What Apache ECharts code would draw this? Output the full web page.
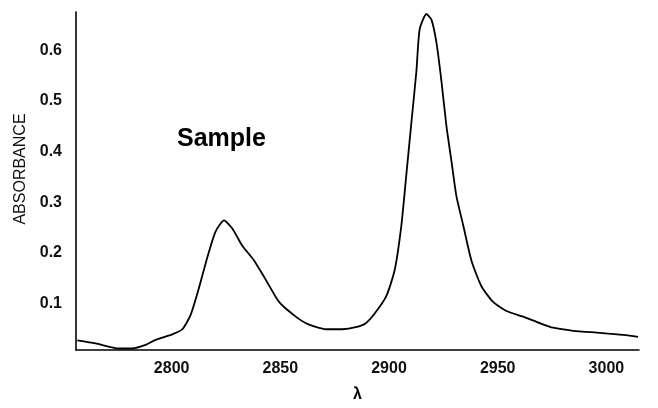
<!DOCTYPE html>
<html>
<head>
<meta charset="utf-8">
<script src="https://cdn.jsdelivr.net/npm/echarts@6/dist/echarts.min.js"></script>
<style>
  html, body { margin: 0; padding: 0; background: #fff; }
  #chart { width: 658px; height: 408px; }
</style>
</head>
<body>
<div id="chart"></div>
<script>
// wavenumber (x) and absorbance (y)
const wavenumbers = [
  2756.6, 2765, 2775.6, 2781.9, 2788, 2792.6, 2800.3, 2804.9, 2808.7, 2812.4,
  2816.4, 2820.2, 2824.1, 2827.9, 2832.5, 2837.9, 2843.3, 2849.4, 2857.1, 2863.2,
  2870.9, 2878.6, 2884.7, 2889.3, 2893.4, 2898.8, 2902.6, 2905.7, 2908, 2910.3,
  2912.6, 2914.1, 2917.2, 2919.5, 2921.8, 2924.1, 2926.4, 2928.7, 2931, 2934.1,
  2937.9, 2942.5, 2947.9, 2954, 2961.7, 2969.4, 2975.5, 2984.7, 2997, 3007.7, 3014.6
];
const absorbance = [
  0.027, 0.021, 0.011, 0.011, 0.018, 0.028, 0.039, 0.049, 0.077, 0.128,
  0.191, 0.242, 0.264, 0.248, 0.214, 0.185, 0.147, 0.103, 0.074, 0.058,
  0.049, 0.049, 0.053, 0.061, 0.080, 0.115, 0.166, 0.255, 0.356, 0.458,
  0.559, 0.642, 0.672, 0.661, 0.616, 0.540, 0.451, 0.382, 0.312, 0.255,
  0.185, 0.134, 0.103, 0.085, 0.074, 0.061, 0.052, 0.046, 0.042, 0.038, 0.034
];
const xTicks = [2800, 2850, 2900, 2950, 3000];
const yTicks = [0.1, 0.2, 0.3, 0.4, 0.5, 0.6];

const chart = echarts.init(document.getElementById("chart"));
const font = "Liberation Sans, Arial, sans-serif";

const option = {
  backgroundColor: "#fff",
  animation: false,
  title: {
    text: "Sample",
    left: 172,
    top: 122,
    textStyle: { fontFamily: font, fontSize: 25, fontWeight: 900, color: "#000" },
  },
  grid: { left: 76, right: 19, top: 12, bottom: 45 },
  xAxis: {
    type: "value",
    min: 2756,
    max: 3015,
    name: "λ",
    nameLocation: "middle",
    nameGap: 37,
    nameTextStyle: { fontFamily: font, fontSize: 16, fontWeight: "bold", color: "#000" },
    axisLine: { lineStyle: { color: "#000", width: 1.6 } },
    axisTick: { show: false },
    splitLine: { show: false },
    axisLabel: {
      customValues: xTicks,
      margin: 11,
      fontFamily: font,
      fontSize: 16,
      fontWeight: "bold",
      color: "#111",
      formatter: (v) => String(v),
    },
  },
  yAxis: {
    type: "value",
    min: 0.008,
    max: 0.676,
    name: "ABSORBANCE",
    nameLocation: "middle",
    nameRotate: 90,
    nameGap: 43,
    nameTextStyle: { fontFamily: font, fontSize: 16, color: "#111", padding: [0, 0, 0, 24] },
    axisLine: { show: true, lineStyle: { color: "#000", width: 1.6 } },
    axisTick: { show: false },
    splitLine: { show: false },
    axisLabel: {
      customValues: yTicks,
      margin: 14,
      fontFamily: font,
      fontSize: 16,
      fontWeight: "bold",
      color: "#111",
      formatter: (v) => v.toFixed(1),
    },
  },
  series: [
    {
      type: "line",
      data: wavenumbers.map((x, i) => [x, absorbance[i]]),
      smooth: 0.2,
      showSymbol: false,
      lineStyle: { color: "#000", width: 1.8 },
    },
  ],
};

chart.setOption(option);
</script>
</body>
</html>
